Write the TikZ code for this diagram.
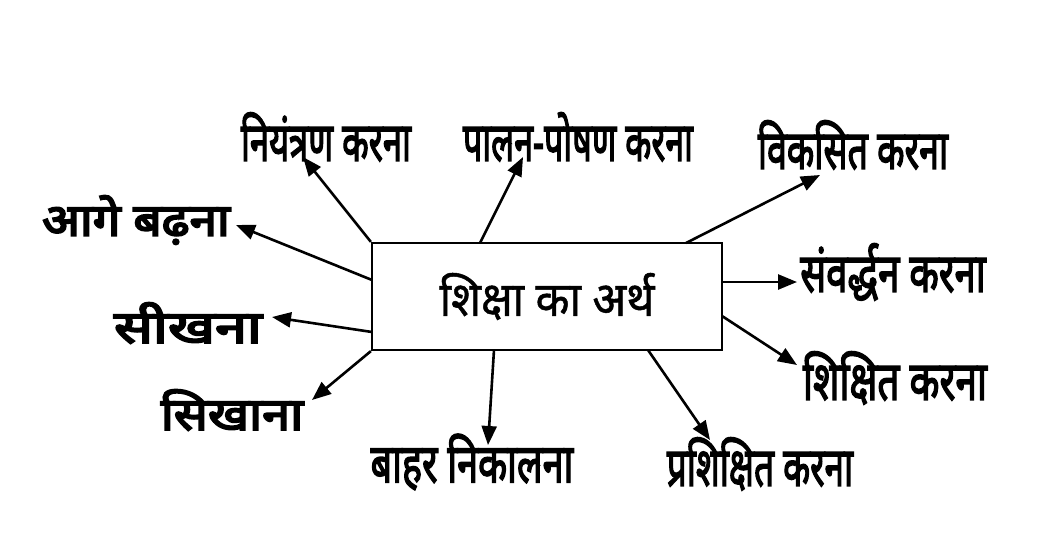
\documentclass[tikz,border=0pt]{standalone}
\usepackage{fontspec}
\usepackage{graphicx}
\newfontfamily\dev[Script=Devanagari,FakeBold=1]{Noto Sans}
\newfontfamily\devb[Script=Devanagari,FakeBold=3]{Noto Sans}
\newfontfamily\devh[Script=Devanagari,FakeBold=4]{Noto Sans}
\usetikzlibrary{arrows.meta}
\newcommand\sq[2]{\scalebox{#1}[1]{#2}}
\tikzset{
  lbl/.style={font=\devb\fontsize{54}{56}\selectfont, inner sep=0pt, anchor=center},
  lblh/.style={font=\devh\fontsize{45}{47}\selectfont, inner sep=0pt, anchor=center},
  arr/.style={line width=2.6pt, -{Triangle[length=19pt,width=15pt]}},
  mainbox/.style={draw, line width=2.2pt, minimum width=350pt, minimum height=107pt, inner sep=0pt,
    font=\dev\fontsize{48}{50}\selectfont}
}
\begin{document}
\begin{tikzpicture}[x=1pt,y=-1pt]
\useasboundingbox (0,0) rectangle (1060,546);
\fill[white] (0,0) rectangle (1060,546);
\node[mainbox] (box) at (547,296.5) {\sq{0.92}{शिक्षा का अर्थ}};
\node[lbl] (l1) at (326,137) {\sq{0.64}{नियंत्रण करना}};
\node[lbl] (l2) at (578,137) {\sq{0.63}{पालन-पोषण करना}};
\node[lbl] (l3) at (853,145) {\sq{0.66}{विकसित करना}};
\node[lblh] (l4) at (136,220) {\sq{1.1}{आगे बढ़ना}};
\node[lbl] (l5) at (893,272) {\sq{0.71}{संवर्द्धन करना}};
\node[lblh] (l6) at (188,323) {\sq{1.28}{सीखना}};
\node[lbl] (l7) at (895,378) {\sq{0.72}{शिक्षित करना}};
\node[lblh] (l8) at (232,410) {\sq{1.12}{सिखाना}};
\node[lbl] (l9) at (472,462) {\sq{0.7}{बाहर निकालना}};
\node[lbl] (l10) at (760,464) {\sq{0.65}{प्रशिक्षित करना}};
% start points on the box
\coordinate (s2) at (480,243);
\coordinate (s3) at (686,243);
\coordinate (s4) at (372,280);
\coordinate (s5) at (722,282);
\coordinate (s6) at (372,332);
\coordinate (s7) at (722,316);
\coordinate (s9) at (494,350);
\coordinate (s10) at (648,350);
% arrow tips
\coordinate (t1) at (303,157);
\coordinate (t2) at (523,157);
\coordinate (t3) at (820,175);
\coordinate (t4) at (236,225);
\coordinate (t5) at (797,282);
\coordinate (t6) at (272,317);
\coordinate (t7) at (797,365);
\coordinate (t8) at (312,400);
\coordinate (t9) at (488,445);
\coordinate (t10) at (710,440);
\draw[arr] (box.north west) -- (t1);
\draw[arr] (s2) -- (t2);
\draw[arr] (s3) -- (t3);
\draw[arr] (s4) -- (t4);
\draw[arr] (s5) -- (t5);
\draw[arr] (s6) -- (t6);
\draw[arr] (s7) -- (t7);
\draw[arr] (box.south west) -- (t8);
\draw[arr] (s9) -- (t9);
\draw[arr] (s10) -- (t10);
\end{tikzpicture}
\end{document}
